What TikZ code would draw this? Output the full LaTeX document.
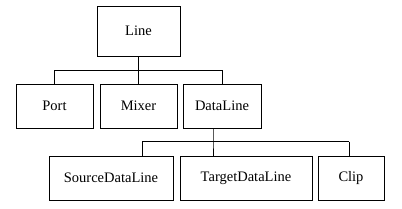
\documentclass[tikz,border=0pt]{standalone}
\usepackage{fontspec}
\setmainfont{Liberation Serif}
\begin{document}
\begin{tikzpicture}[x=1pt,y=-1pt,line width=1pt,
  box/.style={draw,inner sep=0pt,minimum height=44pt,font=\fontsize{14.5}{17}\selectfont}]
  \useasboundingbox (0,0) rectangle (402,209);
  % top
  \node[box,minimum width=83pt,minimum height=50pt] (line) at (138.5,31) {Line};
  % second row
  \node[box,minimum width=77pt] (port) at (54.5,106) {Port};
  \node[box,minimum width=77pt] (mixer) at (138.5,106) {Mixer};
  \node[box,minimum width=78pt] (dataline) at (222,106) {DataLine};
  % third row
  \node[box,minimum width=124pt] (source) at (111,178) {SourceDataLine};
  \node[box,minimum width=132pt] (target) at (246,178) {TargetDataLine};
  \node[box,minimum width=66pt] (clip) at (351,178) {Clip};
  % connectors
  \coordinate (busone) at (138.5,70.5);
  \draw (line.south) -- (busone);
  \draw (busone) -| (port.north);
  \draw (busone) -| (dataline.north);
  \draw (busone) -- (mixer.north);
  \coordinate (bustwo) at (213,141.5);
  \coordinate (busleft) at (142,141.5);
  \coordinate (busright) at (349,141.5);
  \draw (bustwo |- dataline.south) -- (bustwo) -- (bustwo |- target.north);
  \draw (busleft) -- (busright);
  \draw (busleft) -- (busleft |- source.north);
  \draw (busright) -- (busright |- clip.north);
\end{tikzpicture}
\end{document}
